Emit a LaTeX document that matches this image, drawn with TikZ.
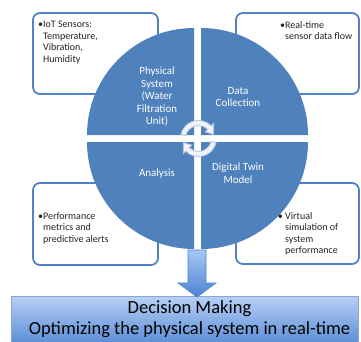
\documentclass[tikz,border=0pt]{standalone}
\usepackage{fontspec}
\setmainfont{Carlito}
\usetikzlibrary{calc}
\definecolor{quad}{RGB}{79,129,189}
\definecolor{boxline}{RGB}{80,130,198}
\definecolor{arrline}{RGB}{184,200,222}
\definecolor{arrfill}{RGB}{240,244,250}
\definecolor{dmtop}{RGB}{184,208,246}
\definecolor{dmbot}{RGB}{80,134,210}
\definecolor{dmline}{RGB}{140,166,205}
\definecolor{datop}{RGB}{168,198,244}
\definecolor{dabot}{RGB}{76,132,212}
\definecolor{txt}{RGB}{35,35,35}
\begin{document}
\begin{tikzpicture}[x=1pt,y=1pt,
  infobox/.style={draw=boxline, line width=1.8pt, fill=white, rounded corners=7pt,
    inner sep=0pt, outer sep=0pt},
  infotext/.style={anchor=north west, inner sep=0pt, align=left, text=txt,
    font=\fontsize{10}{11.5}\selectfont},
  quadtext/.style={align=center, text=white, inner sep=0pt,
    font=\fontsize{11}{12.5}\selectfont},
  cenarrow/.style={draw=arrline, fill=arrfill, line width=0.9pt}]
\useasboundingbox (0,0) rectangle (361,341);
\clip (0,0) rectangle (361,341);
\fill[white] (0,0) rectangle (361,341);

% info boxes
\node[infobox, minimum width=125pt, minimum height=81pt] (b1) at (95.5,287.5) {};
\node[infobox, minimum width=123pt, minimum height=81pt] (b2) at (297.5,287.5) {};
\node[infobox, minimum width=125pt, minimum height=82pt] (b3) at (95.5,117) {};
\node[infobox, minimum width=123pt, minimum height=81pt] (b4) at (297.5,117.5) {};

% quadrants
\fill[quad] (194,206) -- ++(-107,0) arc[start angle=180,end angle=90,radius=107] -- cycle;
\fill[quad] (201,206) -- ++(107,0) arc[start angle=0,end angle=90,radius=107] -- cycle;
\fill[quad] (194,199) -- ++(-107,0) arc[start angle=180,end angle=270,radius=107] -- cycle;
\fill[quad] (201,199) -- ++(107,0) arc[start angle=0,end angle=-90,radius=107] -- cycle;

% info texts
\node[infotext] (t1) at (43,320) {\llap{•}IoT Sensors:\\Temperature,\\Vibration,\\Humidity};
\node[infotext] (t2) at (285,320) {\llap{•}Real-time\\sensor data flow};
\node[infotext] (t3) at (43,129) {\llap{•}Performance\\metrics and\\predictive alerts};
\node[infotext] (t4) at (285,129) {\llap{• }Virtual\\simulation of\\system\\performance};

% quadrant labels
\node[quadtext] (q1) at (157,244.5) {Physical\\System\\(Water\\Filtration\\Unit)};
\node[quadtext] (q2) at (238,244) {Data\\Collection};
\node[quadtext] (q3) at (157,167) {Analysis};
\node[quadtext] (q4) at (238,168) {Digital Twin\\Model};

% centre cycle arrows
\coordinate (C) at (198.5,202.5);
\filldraw[cenarrow] ($(C)+(167:18)$) arc[start angle=167,end angle=45,radius=18]
  -- ($(C)+(45:21.5)$) -- ($(C)+(15:15.5)$) -- ($(C)+(45:9.5)$) -- ($(C)+(45:13)$)
  arc[start angle=45,end angle=167,radius=13] -- cycle;
\filldraw[cenarrow] ($(C)+(347:18)$) arc[start angle=347,end angle=225,radius=18]
  -- ($(C)+(225:21.5)$) -- ($(C)+(195:15.5)$) -- ($(C)+(225:9.5)$) -- ($(C)+(225:13)$)
  arc[start angle=225,end angle=347,radius=13] -- cycle;

% decision box
\shade[top color=dmtop, bottom color=dmbot, draw=dmline, line width=1pt]
  (11,45) rectangle (358,-8);
\node[inner sep=0pt, align=center, text=black, font=\fontsize{18.5}{21}\selectfont]
  (dm) at (189.5,21.5) {Decision Making\\Optimizing the physical system in real-time};

% down arrow
\shade[top color=datop, bottom color=dabot, draw=boxline, line width=0.6pt]
  (188,91) -- (206,91) -- (206,58) -- (216,58) -- (197,44) -- (178,58) -- (188,58) -- cycle;
\end{tikzpicture}
\end{document}
